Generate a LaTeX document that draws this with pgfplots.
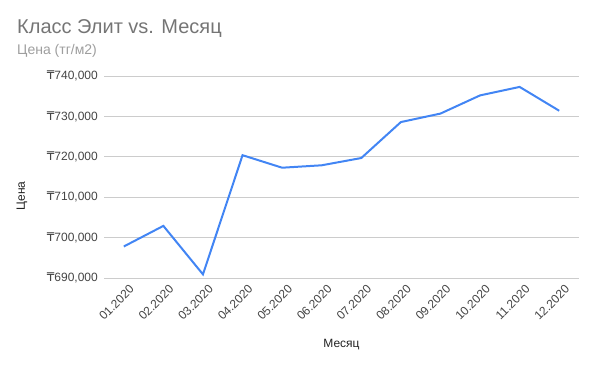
\documentclass[border=0pt]{standalone}
\usepackage{pgfplots}
\pgfplotsset{compat=1.18}
\usepackage{fontspec}
\setmainfont{Liberation Sans}
\newfontfamily\dejavu{DejaVu Sans}
\newcommand{\tenge}{{\dejavu ₸}}
\definecolor{titlegray}{HTML}{757575}
\definecolor{subgray}{HTML}{9E9E9E}
\definecolor{ticklab}{HTML}{444444}
\definecolor{axlab}{HTML}{222222}
\definecolor{gridc}{HTML}{CCCCCC}
\definecolor{lineblue}{HTML}{4285F4}
\begin{document}
\begin{tikzpicture}
\path[use as bounding box] (0bp,0bp) rectangle (596bp,-365bp);
\node[anchor=base west, inner sep=0, text=titlegray, font=\fontsize{20bp}{24bp}\selectfont] at (17bp,-33bp) {Класс Элит vs. Месяц};
\node[anchor=base west, inner sep=0, text=subgray, font=\fontsize{14bp}{16bp}\selectfont] at (17bp,-54bp) {Цена (тг/м2)};
\begin{axis}[
  at={(104bp,-278bp)}, anchor=south west,
  scale only axis, width=475bp, height=202bp,
  xmin=-0.5, xmax=11.5, ymin=690000, ymax=740000,
  axis line style={draw=none},
  major tick length=0pt,
  xtick={0,...,11},
  xticklabels={01.2020,02.2020,03.2020,04.2020,05.2020,06.2020,07.2020,08.2020,09.2020,10.2020,11.2020,12.2020},
  ytick={690000,700000,710000,720000,730000,740000},
  scaled y ticks=false,
  ymajorgrids, grid style={gridc, line width=0.8bp},
  /pgf/number format/assume math mode=true,
  yticklabel={\tenge\pgfmathprintnumber[fixed,precision=0,1000 sep={,}]{\tick}},
  yticklabel style={anchor=east, inner sep=0pt, xshift=-6bp, text=ticklab, font=\fontsize{12bp}{14bp}\selectfont},
  xticklabel style={xshift=5bp, yshift=-6bp, rotate=45, anchor=north east, inner sep=0pt, text=ticklab, font=\fontsize{12bp}{14bp}\selectfont},
  clip=false,
]
\addplot[lineblue, line width=2bp, mark=none] coordinates {
(0,697800) (1,702900) (2,690900) (3,720400) (4,717300) (5,717900)
(6,719700) (7,728600) (8,730700) (9,735200) (10,737300) (11,731400)
};
\end{axis}
\node[anchor=center, text=axlab, font=\fontsize{12bp}{14bp}\selectfont] at (341.5bp,-345bp) {Месяц};
\node[anchor=center, rotate=90, text=axlab, font=\fontsize{12bp}{14bp}\selectfont] at (22bp,-196bp) {Цена};
\end{tikzpicture}
\end{document}
